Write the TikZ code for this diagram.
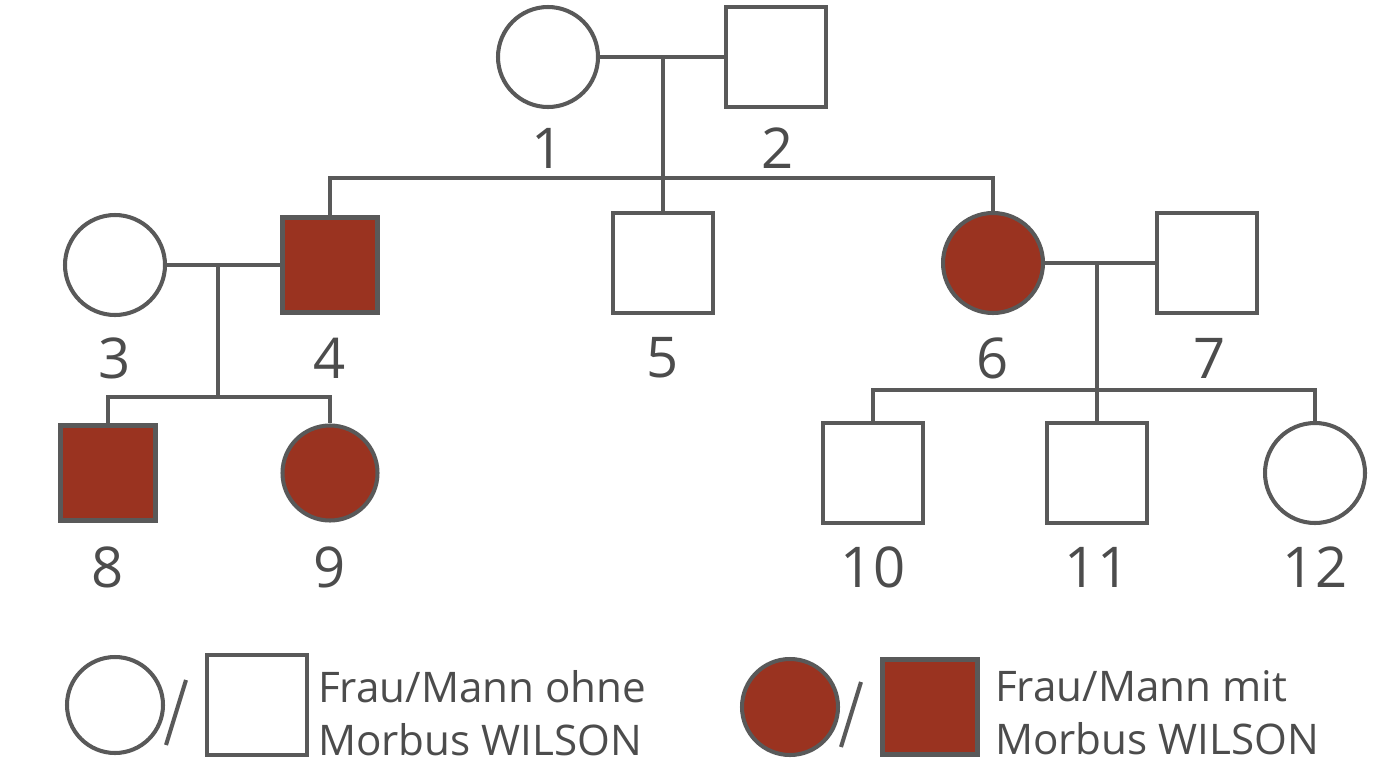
\documentclass[tikz,border=0pt]{standalone}
\usepackage{fontspec}
\setmainfont{Open Sans}
\definecolor{wil}{HTML}{9A3320}
\begin{document}
\begin{tikzpicture}[x=0.02cm,y=-0.02cm,
 ln/.style={draw=black!65,line width=2.3pt},
 f/.style={circle,ln,minimum size=100*0.02cm,inner sep=0,fill=white},
 m/.style={rectangle,ln,minimum size=100*0.02cm,inner sep=0,fill=white},
 aff/.style={fill=wil,minimum size=95*0.02cm},
 lab/.style={font=\fontsize{32}{32}\selectfont,text=black!70},
 leg/.style={font=\fontsize{24}{30}\selectfont,text=black!70,align=left,anchor=west}]
\useasboundingbox (0,0) rectangle (1376,768);
\node[f] (n1) at (548,57) {}; \node[m] (n2) at (776,57) {};
\node[f] (n3) at (115,265) {}; \node[m,aff] (n4) at (330,265) {};
\node[m] (n5) at (663,263) {}; \node[f,aff,minimum size=100*0.02cm] (n6) at (993,263) {};
\node[m] (n7) at (1207,263) {};
\node[m,aff] (n8) at (108,473) {}; \node[f,aff] (n9) at (330,473) {};
\node[m] (n10) at (873,473) {}; \node[m] (n11) at (1097,473) {}; \node[f] (n12) at (1315,473) {};
\foreach \n/\x/\y in {1/548/148,2/778/148,3/115/358,4/330/358,5/663/358,6/993/358,7/1210/358,8/108/567,9/330/567,10/873/567,11/1097/567,12/1315/567}
 \node[lab] (l\n) at (\x,\y) {\n};
\coordinate (c12) at (663,57); \coordinate (s1) at (663,178);
\draw[ln] (n1) -- (n2); \draw[ln] (c12) -- (s1);
\draw[ln] (n4.north) |- (s1) -| (n6.north); \draw[ln] (s1) -- (n5.north);
\coordinate (c34) at (218,265); \coordinate (s2) at (218,397);
\draw[ln] (n3) -- (n4); \draw[ln] (c34) -- (s2);
\draw[ln] (n8.north) |- (s2) -| (n9.north);
\coordinate (c67) at (1097,265); \coordinate (s3) at (1097,390);
\draw[ln] (n6) -- (n7); \draw[ln] (c67) -- (s3);
\draw[ln] (n10.north) |- (s3) -| (n12.north); \draw[ln] (s3) -- (n11.north);
% legend
\node[f,minimum size=96*0.02cm] (lf1) at (115,705) {};
\node[m] (lm1) at (257,705) {};
\coordinate (a1) at (166,745); \coordinate (b1) at (186,680);
\draw[ln] (a1) -- (b1);
\node[leg] (t1) at (312,713) {Frau/Mann ohne\\Morbus WILSON};
\node[f,aff,minimum size=96*0.02cm] (lf2) at (790,707) {};
\node[m,aff] (lm2) at (930,707) {};
\coordinate (a2) at (841,747); \coordinate (b2) at (861,682);
\draw[ln] (a2) -- (b2);
\node[leg] (t2) at (989,713) {Frau/Mann mit\\Morbus WILSON};
\end{tikzpicture}
\end{document}
